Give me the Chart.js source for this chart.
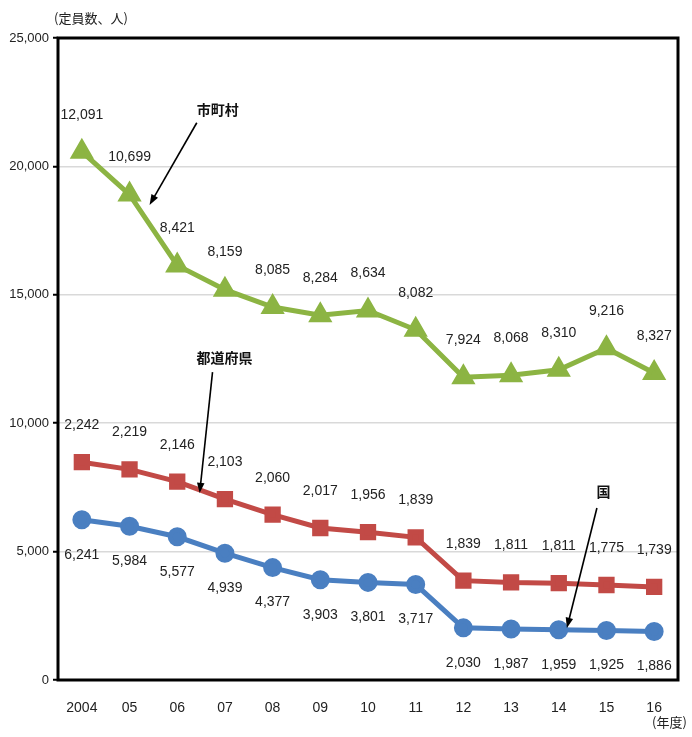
<!DOCTYPE html>
<html>
<head>
<meta charset="utf-8">
<script src="https://cdn.jsdelivr.net/npm/chart.js@4.4.1/dist/chart.umd.min.js"></script>
<style>
  body { margin: 0; background: #fff; }
  #wrap { width: 692px; height: 737px; }
</style>
</head>
<body>
<div id="wrap"><canvas id="myChart"></canvas></div>
<script>
// 年度
var years = ['2004', '05', '06', '07', '08', '09', '10', '11', '12', '13', '14', '15', '16'];
// 定員数（人）
var kuni = [6241, 5984, 5577, 4939, 4377, 3903, 3801, 3717, 2030, 1987, 1959, 1925, 1886];
var todofuken = [2242, 2219, 2146, 2103, 2060, 2017, 1956, 1839, 1839, 1811, 1811, 1775, 1739];
var shichoson = [12091, 10699, 8421, 8159, 8085, 8284, 8634, 8082, 7924, 8068, 8310, 9216, 8327];
var yTicks = [0, 5000, 10000, 15000, 20000, 25000];

// 注記（カテゴリ位置, 値）
var notes = [
  { text: '市町村', x: 2.85, y: 22200, from: [2.41, 21700], to: [1.42, 18500] },
  { text: '都道府県', x: 2.99, y: 12540, from: [2.74, 11990], to: [2.47, 7280] },
  { text: '国', x: 10.94, y: 7320, from: [10.80, 6700], to: [10.17, 2025] }
];

var FONT = '"Liberation Sans Narrow", "Liberation Sans", sans-serif';
var JFONT = '"Noto Sans CJK JP", sans-serif';

function fmt(v) { return Number(v).toLocaleString('en-US'); }

function arrow(c, x1, y1, x2, y2) {
  var a = Math.atan2(y2 - y1, x2 - x1);
  var h = 11;
  c.beginPath();
  c.moveTo(x1, y1);
  c.lineTo(x2 - Math.cos(a) * h * 0.8, y2 - Math.sin(a) * h * 0.8);
  c.lineWidth = 1.6;
  c.strokeStyle = '#000';
  c.stroke();
  c.beginPath();
  c.moveTo(x2, y2);
  c.lineTo(x2 - h * Math.cos(a - 0.35), y2 - h * Math.sin(a - 0.35));
  c.lineTo(x2 - h * Math.cos(a + 0.35), y2 - h * Math.sin(a + 0.35));
  c.closePath();
  c.fillStyle = '#000';
  c.fill();
}

var extras = {
  id: 'extras',
  afterDatasetsDraw: function (chart) {
    var c = chart.ctx;
    var a = chart.chartArea;
    var xs = chart.scales.x, ys = chart.scales.y;
    c.save();
    // 枠
    c.lineWidth = 3;
    c.strokeStyle = '#000';
    c.strokeRect(a.left, a.top, a.right - a.left, a.bottom - a.top);

    // データラベル
    c.font = '14px ' + FONT;
    c.fillStyle = '#222';
    c.textAlign = 'center';
    c.textBaseline = 'middle';
    var offs = [35, -37, -37];
    chart.data.datasets.forEach(function (ds, i) {
      var meta = chart.getDatasetMeta(i);
      meta.data.forEach(function (pt, j) {
        c.fillText(fmt(ds.data[j]), pt.x, pt.y + offs[i]);
      });
    });

    // 注記
    c.font = 'bold 14px ' + JFONT;
    notes.forEach(function (n) {
      c.fillStyle = '#111';
      c.fillText(n.text, xs.getPixelForValue(n.x), ys.getPixelForValue(n.y));
      arrow(c, xs.getPixelForValue(n.from[0]), ys.getPixelForValue(n.from[1]),
        xs.getPixelForValue(n.to[0]), ys.getPixelForValue(n.to[1]));
    });

    // 軸タイトル
    c.font = '13px ' + JFONT;
    c.fillStyle = '#222';
    c.textAlign = 'left';
    c.fillText('(定員数、人)', 54, 18);
    c.fillText('(年度)', 652, 722);
    c.restore();
  }
};

var ctx = document.getElementById('myChart').getContext('2d');
var chart = new Chart(ctx, {
  type: 'line',
  data: {
    labels: years,
    datasets: [
      {
        label: '国',
        data: kuni,
        borderColor: '#4a7fc1',
        backgroundColor: '#4a7fc1',
        borderWidth: 5,
        pointStyle: 'circle',
        pointRadius: 7,
        fill: false,
        tension: 0
      },
      {
        label: '都道府県',
        data: todofuken,
        borderColor: '#c24a46',
        backgroundColor: '#c24a46',
        borderWidth: 5,
        pointStyle: 'rect',
        pointRadius: 8,
        fill: false,
        tension: 0
      },
      {
        label: '市町村',
        data: shichoson,
        borderColor: '#8cb443',
        backgroundColor: '#8cb443',
        borderWidth: 5,
        pointStyle: 'triangle',
        pointRadius: 9,
        fill: false,
        tension: 0
      }
    ]
  },
  options: {
    responsive: true,
    maintainAspectRatio: false,
    animation: false,
    layout: { padding: { top: 38, right: 13, left: 0, bottom: 0 } },
    plugins: { legend: { display: false }, tooltip: { enabled: false } },
    scales: {
      x: {
        offset: true,
        grid: { display: false },
        border: { display: false },
        ticks: { color: '#222', font: { family: FONT, size: 14 }, padding: 12, maxRotation: 0 },
        afterFit: function (s) { s.height = 57; }
      },
      y: {
        stacked: true,
        min: 0,
        max: 25000,
        afterBuildTicks: function (s) { s.ticks = yTicks.map(function (v) { return { value: v }; }); },
        grid: { color: '#d9d9d9', lineWidth: 1.5, tickLength: 5, tickColor: '#000', tickWidth: 2 },
        border: { display: false },
        ticks: {
          color: '#222',
          font: { family: FONT, size: 13 },
          padding: 4,
          callback: function (v) { return fmt(v); }
        },
        afterFit: function (s) { s.width = 58; }
      }
    }
  },
  plugins: [extras]
});
</script>
</body>
</html>
